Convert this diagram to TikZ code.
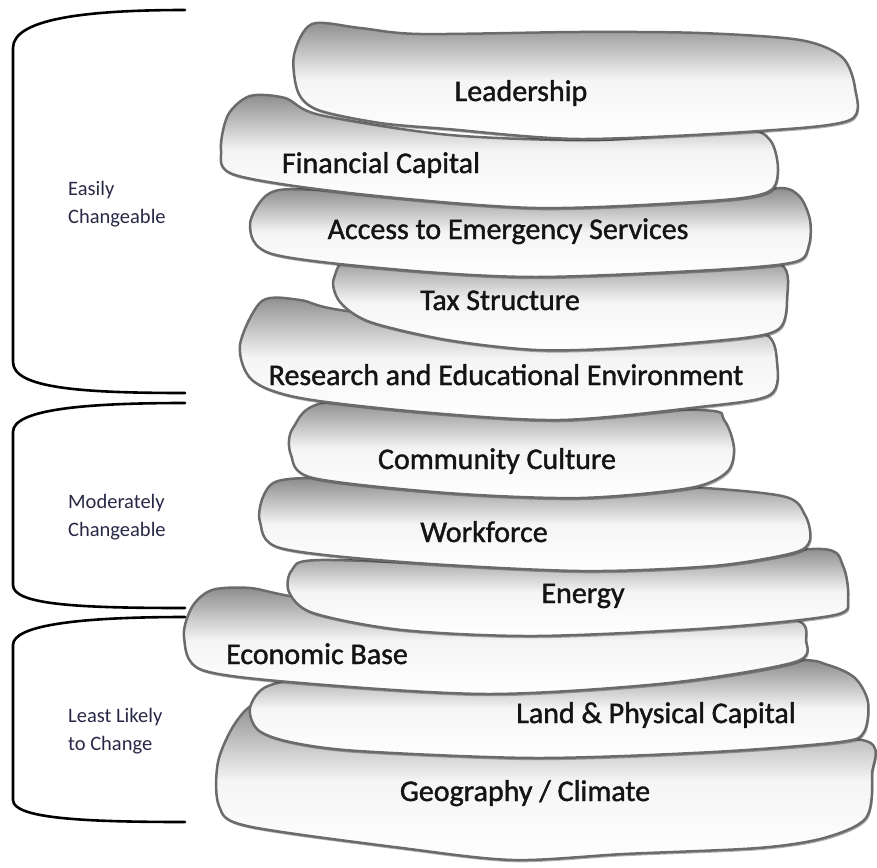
\documentclass[tikz,border=0pt]{standalone}
\usepackage{fontspec}
\setmainfont{Carlito}
\newfontfamily\stonefont{Carlito}[BoldFont=Carlito, BoldFeatures={FakeBold=1.3}]
\usetikzlibrary{shadows}
\definecolor{lbl}{RGB}{40,40,70}
\tikzset{
 stone/.style={draw=black!58, line width=2.5pt, line join=round,
   top color=black!45, bottom color=white, middle color=white!96!black,
   drop shadow={shadow xshift=1.2pt, shadow yshift=-2.2pt, opacity=0.3, fill=black}},
 stonelabel/.style={anchor=base, inner sep=0pt, font=\stonefont\bfseries\fontsize{30}{32}\selectfont, text=black!92},
 brace/.style={line width=2.6pt, line cap=round},
 bracelabel/.style={anchor=west, align=left, inner sep=0pt, font=\fontsize{20.5}{28}\selectfont, text=lbl}
}
\begin{document}
\begin{tikzpicture}[x=1pt, y=-1pt]
\useasboundingbox (0,0) rectangle (877,867);

% brackets
\draw[brace] (185,10) .. controls (80,10) and (13,20) .. (13,48) -- (13,362) .. controls (13,388) and (80,393) .. (185,393);
\draw[brace] (185,403) .. controls (80,403) and (13,410) .. (13,432) -- (13,585) .. controls (13,605) and (80,608) .. (185,608);
\draw[brace] (185,617) .. controls (80,617) and (13,625) .. (13,645) -- (13,800) .. controls (13,818) and (80,822) .. (185,822);
\node[bracelabel] (easy) at (68,204) {Easily\\Changeable};
\node[bracelabel] (mod) at (68,517) {Moderately\\Changeable};
\node[bracelabel] (least) at (68,731) {Least Likely\\to Change};

% stones, bottom first
% Geography / Climate
\path[stone] plot[smooth cycle] coordinates {(330,712) (262,702) (236,722) (218,762) (219,806) (247,826) (402,848) (513,860) (624,854) (758,848) (824,838) (866,818) (872,775) (862,740) (700,745) (500,745)};
% Land & Physical Capital
\path[stone] plot[smooth cycle] coordinates {(330,678) (268,686) (250,708) (258,730) (290,742) (358,751) (536,758) (713,752) (840,742) (864,732) (868,702) (855,678) (828,665) (790,660) (600,668)};
% Economic Base
\path[stone] plot[smooth cycle] coordinates {(212,590) (250,588) (295,597) (450,622) (700,618) (795,620) (806,640) (795,662) (669,683) (491,694) (313,684) (202,670) (184,637) (192,607)};
% Energy
\path[stone] plot[smooth cycle] coordinates {(320,560) (500,565) (700,558) (822,549) (843,566) (848,598) (835,615) (713,628) (536,636) (402,630) (313,613) (289,592) (292,570)};
% Workforce
\path[stone] plot[smooth cycle] coordinates {(278,481) (330,478) (491,483) (669,486) (782,496) (805,515) (810,540) (793,553) (713,566) (580,571) (402,562) (280,548) (260,522) (263,497)};
% Community Culture
\path[stone] plot[smooth cycle] coordinates {(330,402) (500,410) (700,410) (724,420) (734,448) (727,472) (690,488) (580,498) (447,493) (313,478) (291,455) (293,428)};
% Research
\path[stone] plot[smooth cycle] coordinates {(262,301) (300,300) (340,310) (500,330) (700,330) (765,334) (777,362) (770,395) (700,407) (560,420) (420,412) (300,398) (252,380) (240,345)};
% Tax Structure
\path[stone] plot[smooth cycle] coordinates {(360,255) (500,265) (700,262) (780,264) (787,300) (780,328) (744,338) (624,348) (536,350) (447,340) (370,322) (340,302) (334,278)};
% Access
\path[stone] plot[smooth cycle] coordinates {(270,193) (320,190) (500,200) (720,198) (780,188) (800,197) (810,220) (809,245) (795,262) (713,270) (536,277) (402,270) (272,254) (250,225)};
% Financial Capital
\path[stone] plot[smooth cycle] coordinates {(250,96) (285,98) (320,115) (450,135) (600,140) (740,130) (770,140) (778,170) (768,192) (710,201) (536,208) (358,194) (235,175) (221,150) (228,115)};
% Leadership
\path[stone] plot[smooth cycle] coordinates {(312,24) (360,28) (420,34) (580,32) (700,33) (800,40) (842,57) (855,88) (850,120) (760,131) (580,139) (447,129) (380,123) (318,110) (298,92) (294,55)};

% labels
\node[stonelabel] (lead) at (521,101) {Leadership};
\node[stonelabel] (fin) at (381,173) {Financial Capital};
\node[stonelabel] (acc) at (508,239) {Access to Emergency Services};
\node[stonelabel] (tax) at (500,310) {Tax Structure};
\node[stonelabel] (res) at (506,385) {Research and Educational Environment};
\node[stonelabel] (com) at (497,469) {Community Culture};
\node[stonelabel] (work) at (484,542) {Workforce};
\node[stonelabel] (ene) at (583,603) {Energy};
\node[stonelabel] (eco) at (317,664) {Economic Base};
\node[stonelabel] (land) at (656,723) {Land \& Physical Capital};
\node[stonelabel] (geo) at (525,801) {Geography / Climate};
\end{tikzpicture}
\end{document}
